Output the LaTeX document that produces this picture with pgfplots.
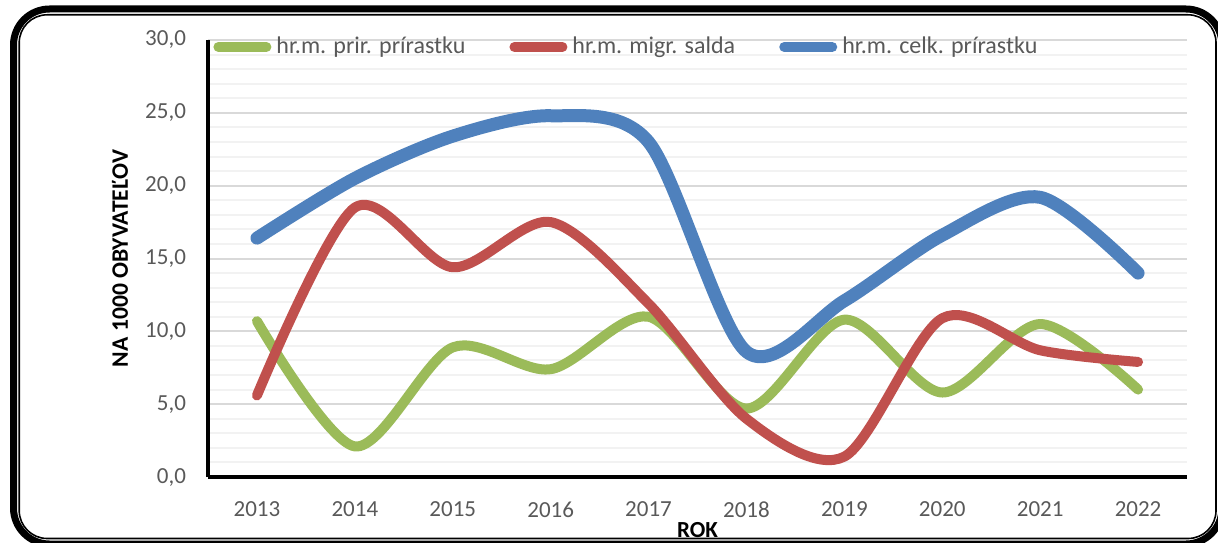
\documentclass[border=0pt]{standalone}
\usepackage{fontspec}
\setmainfont{Carlito}
\usepackage{pgfplots}
\pgfplotsset{compat=1.18}

\definecolor{cgreen}{HTML}{9BBB59}
\definecolor{cred}{HTML}{C0504D}
\definecolor{cblue}{HTML}{4F81BD}
\definecolor{ctext}{HTML}{595959}
\definecolor{gmaj}{HTML}{D9D9D9}
\definecolor{gmin}{HTML}{F2F2F2}

\begin{document}
\begin{tikzpicture}
\useasboundingbox (0,0) rectangle (609pt,271pt);
% double frame with rounded corners
\draw[line width=3.5pt, rounded corners=18pt] (6.75pt,-1pt) rectangle (611pt,266.5pt);
\draw[line width=0.8pt, rounded corners=14pt] (9.6pt,1.75pt) rectangle (608pt,263.6pt);

\begin{axis}[
  at={(104pt,32.5pt)}, anchor=south west,
  scale only axis, width=489.5pt, height=218.5pt,
  xmin=-0.5, xmax=9.5, ymin=0, ymax=30,
  xtick={0,...,9},
  xticklabels={2013,2014,2015,2016,2017,2018,2019,2020,2021,2022},
  ytick={0,5,...,30}, minor ytick={0,1,...,30},
  ymajorgrids, yminorgrids,
  major grid style={gmaj, line width=1pt},
  minor grid style={gmin, line width=1pt},
  axis lines*=left,
  axis line style={-, line width=2pt, black},
  major tick length=0pt, minor tick length=0pt,
  tick label style={font=\fontsize{11.5}{13}\selectfont, text=ctext},
  yticklabel style={xshift=-7.5pt,
    /pgf/number format/fixed, /pgf/number format/fixed zerofill,
    /pgf/number format/precision=1, /pgf/number format/use comma,
    /pgf/number format/assume math mode=true},
  xticklabel style={yshift=-9pt},
  xlabel={ROK},
  ylabel={NA 1000 OBYVATEĽOV},
  xlabel style={at={(axis description cs:0.5,0)}, anchor=center, inner sep=0pt,
    yshift=-26.5pt, font=\bfseries\fontsize{11.5}{13}\selectfont},
  ylabel style={at={(axis description cs:-0.0899,0.5)}, anchor=center, inner sep=0pt,
    font=\bfseries\fontsize{11.8}{13}\selectfont},
  legend columns=3,
  legend cell align=left,
  legend image code/.code={\draw[#1, line width=5pt] (0pt,0pt) -- (24pt,0pt);},
  legend style={at={(axis description cs:0,1)}, anchor=west, xshift=2.5pt, yshift=-3.5pt,
    draw=none, fill=none, inner sep=0pt,
    font=\fontsize{12}{13}\selectfont, text=ctext,
    nodes={inner xsep=0pt, inner ysep=1pt},
    /tikz/every odd column/.append style={column sep=2.5pt},
    /tikz/every even column/.append style={column sep=22pt}},
  every axis plot/.append style={line cap=round, line join=round, smooth, tension=0.5},
]
\addplot[cgreen, line width=5pt] coordinates {
  (0,10.7) (1,2.1) (2,8.9) (3,7.4) (4,11.0) (5,4.7) (6,10.8) (7,5.8) (8,10.5) (9,6.0)
};
\addplot[cred, line width=5pt] coordinates {
  (0,5.6) (1,18.5) (2,14.4) (3,17.5) (4,11.9) (5,4.0) (6,1.4) (7,10.9) (8,8.7) (9,7.9)
};
\addplot[cblue, line width=6.5pt] coordinates {
  (0,16.4) (1,20.5) (2,23.4) (3,24.8) (4,23.0) (5,8.6) (6,12.1) (7,16.6) (8,19.2) (9,14.0)
};
\legend{hr.m. prir. prírastku, hr.m. migr. salda, hr.m. celk. prírastku}
\end{axis}
\end{tikzpicture}
\end{document}
